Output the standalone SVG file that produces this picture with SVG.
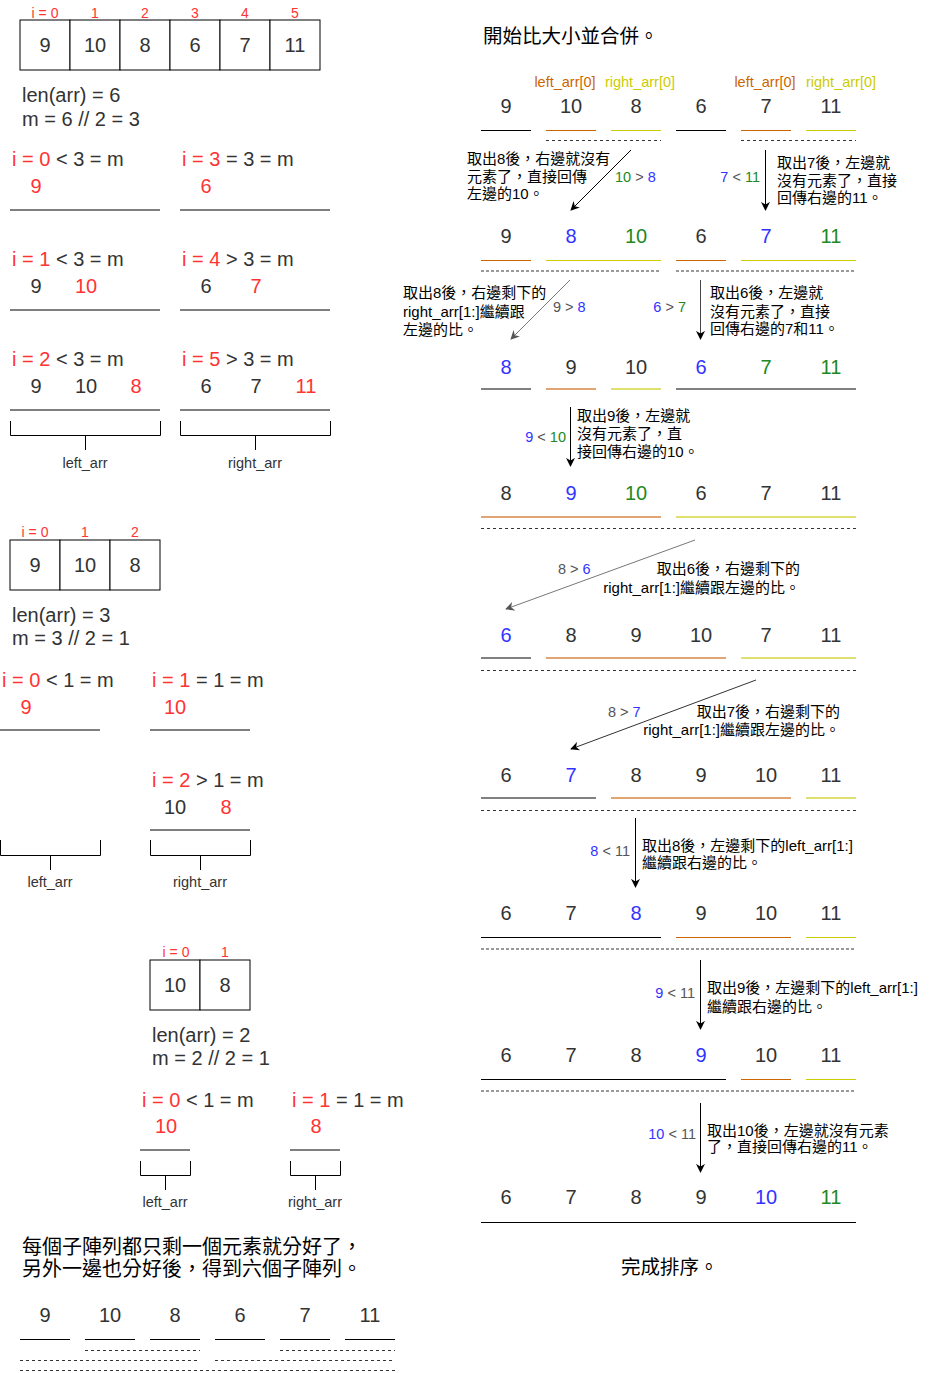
<svg xmlns="http://www.w3.org/2000/svg" width="936" height="1373" viewBox="0 0 936 1373">
<style>
text{font-family:"Liberation Sans","Noto Sans CJK TC",Arial,sans-serif}
.n{font-size:20px;fill:#333;text-anchor:middle}
.t{font-size:20px;fill:#333}
.idx{font-size:14px;fill:#FF3333;text-anchor:middle}
.s{font-size:14.5px;fill:#333;text-anchor:middle}
.c{font-size:15px;fill:#000}
.cr{font-size:15px;fill:#000;text-anchor:end}
.lb{font-size:14.5px;fill:#555}
.lbe{font-size:14.5px;fill:#555;text-anchor:end}
.big{font-size:19.5px;fill:#000}
.big2{font-size:20px;fill:#000}
.r{fill:#FF3333}
.b{fill:#3333FF}
.g{fill:#228822}
.or{fill:#CC6600}
.ye{fill:#CCCC00}
.box{fill:#fff;stroke:#000;stroke-width:1}
.ln{stroke:#000;stroke-width:1;fill:none}
.lo{stroke:#CC6600;stroke-width:1.2}
.ly{stroke:#CCCC00;stroke-width:1.2}
.lgr{stroke:#808080;stroke-width:2}
.llo{stroke:#E0A572;stroke-width:2}
.lly{stroke:#E0E070;stroke-width:2}
.dd{stroke:#333;stroke-width:1;stroke-dasharray:3 3}
.dl{stroke:#999;stroke-width:2;stroke-dasharray:3 2}
.ar{stroke:#000;stroke-width:1;fill:none;marker-end:url(#ak)}
.ag{stroke:#777;stroke-width:1;fill:none;marker-end:url(#ag)}
</style>
<defs>
<marker id="ak" viewBox="0 0 10 10" refX="9" refY="5" markerWidth="9" markerHeight="9" markerUnits="userSpaceOnUse" orient="auto"><path d="M0,0 L10,5 L0,10 L3,5 z" fill="#000"/></marker>
<marker id="ag" viewBox="0 0 10 10" refX="9" refY="5" markerWidth="9" markerHeight="9" markerUnits="userSpaceOnUse" orient="auto"><path d="M0,0 L10,5 L0,10 L3,5 z" fill="#555"/></marker>
</defs>
<rect width="936" height="1373" fill="#fff"/>

<!-- top array of 6 -->
<g id="array6">
<text class="idx" x="45" y="18">i = 0</text><text class="idx" x="95" y="18">1</text><text class="idx" x="145" y="18">2</text><text class="idx" x="195" y="18">3</text><text class="idx" x="245" y="18">4</text><text class="idx" x="295" y="18">5</text>
<rect class="box" x="20" y="20" width="50" height="50"/><rect class="box" x="70" y="20" width="50" height="50"/><rect class="box" x="120" y="20" width="50" height="50"/><rect class="box" x="170" y="20" width="50" height="50"/><rect class="box" x="220" y="20" width="50" height="50"/><rect class="box" x="270" y="20" width="50" height="50"/>
<text class="n" x="45" y="52">9</text><text class="n" x="95" y="52">10</text><text class="n" x="145" y="52">8</text><text class="n" x="195" y="52">6</text><text class="n" x="245" y="52">7</text><text class="n" x="295" y="52">11</text>
<text class="t" x="22" y="102">len(arr) = 6</text>
<text class="t" x="22" y="126">m = 6 // 2 = 3</text>
</g>

<g id="split6-left">
<text class="t" x="12" y="166"><tspan class="r">i = 0</tspan> &lt; 3 = m</text>
<text class="n r" x="36" y="193">9</text>
<line class="ln" x1="10" y1="210" x2="160" y2="210"/>
<text class="t" x="12" y="266"><tspan class="r">i = 1</tspan> &lt; 3 = m</text>
<text class="n" x="36" y="293">9</text><text class="n r" x="86" y="293">10</text>
<line class="ln" x1="10" y1="310" x2="160" y2="310"/>
<text class="t" x="12" y="366"><tspan class="r">i = 2</tspan> &lt; 3 = m</text>
<text class="n" x="36" y="393">9</text><text class="n" x="86" y="393">10</text><text class="n r" x="136" y="393">8</text>
<line class="ln" x1="10" y1="410" x2="160" y2="410"/>
<path class="ln" d="M10.5,421 V435.5 H160.5 V421 M85.5,435 V450"/>
<text class="s" x="85" y="468">left_arr</text>
</g>

<g id="split6-right">
<text class="t" x="182" y="166"><tspan class="r">i = 3</tspan> = 3 = m</text>
<text class="n r" x="206" y="193">6</text>
<line class="ln" x1="180" y1="210" x2="330" y2="210"/>
<text class="t" x="182" y="266"><tspan class="r">i = 4</tspan> &gt; 3 = m</text>
<text class="n" x="206" y="293">6</text><text class="n r" x="256" y="293">7</text>
<line class="ln" x1="180" y1="310" x2="330" y2="310"/>
<text class="t" x="182" y="366"><tspan class="r">i = 5</tspan> &gt; 3 = m</text>
<text class="n" x="206" y="393">6</text><text class="n" x="256" y="393">7</text><text class="n r" x="306" y="393">11</text>
<line class="ln" x1="180" y1="410" x2="330" y2="410"/>
<path class="ln" d="M180.5,421 V435.5 H330.5 V421 M255.5,435 V450"/>
<text class="s" x="255" y="468">right_arr</text>
</g>

<!-- array of 3 -->
<g id="array3">
<text class="idx" x="35" y="537">i = 0</text><text class="idx" x="85" y="537">1</text><text class="idx" x="135" y="537">2</text>
<rect class="box" x="10" y="540" width="50" height="50"/><rect class="box" x="60" y="540" width="50" height="50"/><rect class="box" x="110" y="540" width="50" height="50"/>
<text class="n" x="35" y="572">9</text><text class="n" x="85" y="572">10</text><text class="n" x="135" y="572">8</text>
<text class="t" x="12" y="622">len(arr) = 3</text>
<text class="t" x="12" y="645">m = 3 // 2 = 1</text>
</g>

<g id="split3-left">
<text class="t" x="2" y="687"><tspan class="r">i = 0</tspan> &lt; 1 = m</text>
<text class="n r" x="26" y="714">9</text>
<line class="ln" x1="0" y1="730" x2="100" y2="730"/>
<path class="ln" d="M0.5,840 V855.5 H100.5 V840 M50.5,855 V870"/>
<text class="s" x="50" y="887">left_arr</text>
</g>

<g id="split3-right">
<text class="t" x="152" y="687"><tspan class="r">i = 1</tspan> = 1 = m</text>
<text class="n r" x="175" y="714">10</text>
<line class="ln" x1="150" y1="730" x2="250" y2="730"/>
<text class="t" x="152" y="787"><tspan class="r">i = 2</tspan> &gt; 1 = m</text>
<text class="n" x="175" y="814">10</text><text class="n r" x="226" y="814">8</text>
<line class="ln" x1="150" y1="830" x2="250" y2="830"/>
<path class="ln" d="M150.5,840 V855.5 H250.5 V840 M200.5,855 V870"/>
<text class="s" x="200" y="887">right_arr</text>
</g>

<!-- array of 2 -->
<g id="array2">
<text class="idx" x="176" y="957">i = 0</text><text class="idx" x="225" y="957">1</text>
<rect class="box" x="150" y="960" width="50" height="50"/><rect class="box" x="200" y="960" width="50" height="50"/>
<text class="n" x="175" y="992">10</text><text class="n" x="225" y="992">8</text>
<text class="t" x="152" y="1042">len(arr) = 2</text>
<text class="t" x="152" y="1065">m = 2 // 2 = 1</text>
</g>

<g id="split2-left">
<text class="t" x="142" y="1107"><tspan class="r">i = 0</tspan> &lt; 1 = m</text>
<text class="n r" x="166" y="1133">10</text>
<line class="ln" x1="140" y1="1150" x2="190" y2="1150"/>
<path class="ln" d="M140.5,1161 V1175.5 H190.5 V1161 M165.5,1175 V1190"/>
<text class="s" x="165" y="1207">left_arr</text>
</g>

<g id="split2-right">
<text class="t" x="292" y="1107"><tspan class="r">i = 1</tspan> = 1 = m</text>
<text class="n r" x="316" y="1133">8</text>
<line class="ln" x1="290" y1="1150" x2="340" y2="1150"/>
<path class="ln" d="M290.5,1161 V1175.5 H340.5 V1161 M315.5,1175 V1190"/>
<text class="s" x="315" y="1207">right_arr</text>
</g>

<g id="six-subarrays">
<text class="big2" x="22" y="1254">每個子陣列都只剩一個元素就分好了，</text>
<text class="big2" x="22" y="1276">另外一邊也分好後，得到六個子陣列。</text>
<text class="n" x="45" y="1322">9</text><text class="n" x="110" y="1322">10</text><text class="n" x="175" y="1322">8</text><text class="n" x="240" y="1322">6</text><text class="n" x="305" y="1322">7</text><text class="n" x="370" y="1322">11</text>
<path class="ln" d="M20,1339.5H70M85,1339.5H135M150,1339.5H200M215,1339.5H265M280,1339.5H330M345,1339.5H395"/>
<path class="dd" d="M85,1350.5H200M280,1350.5H395M20,1360.5H200M215,1360.5H395M20,1370.5H395"/>
</g>

<!-- right side: merging -->
<text class="big" x="483" y="43">開始比大小並合併。</text>

<g id="merge-row1">
<text class="s or" x="565" y="87">left_arr[0]</text><text class="s ye" x="640" y="87">right_arr[0]</text>
<text class="s or" x="765" y="87">left_arr[0]</text><text class="s ye" x="841" y="87">right_arr[0]</text>
<text class="n" x="506" y="113">9</text><text class="n" x="571" y="113">10</text><text class="n" x="636" y="113">8</text><text class="n" x="701" y="113">6</text><text class="n" x="766" y="113">7</text><text class="n" x="831" y="113">11</text>
<path class="ln" d="M481,130.5H531M676,130.5H726"/>
<path class="lo" d="M546,130.5H596M741,130.5H791"/>
<path class="ly" d="M611,130.5H661M806,130.5H856"/>
<path class="dd" d="M546,140.5H661M741,140.5H856"/>
</g>

<g id="merge-row2">
<text class="n" x="506" y="243">9</text><text class="n b" x="571" y="243">8</text><text class="n g" x="636" y="243">10</text><text class="n" x="701" y="243">6</text><text class="n b" x="766" y="243">7</text><text class="n g" x="831" y="243">11</text>
<path class="lo" d="M481,260.5H531M676,260.5H726"/>
<path class="ly" d="M546,260.5H661M741,260.5H856"/>
<path class="dl" d="M481,271H660M676,271H855"/>
</g>

<g id="merge-row3">
<text class="n b" x="506" y="374">8</text><text class="n" x="571" y="374">9</text><text class="n" x="636" y="374">10</text><text class="n b" x="701" y="374">6</text><text class="n g" x="766" y="374">7</text><text class="n g" x="831" y="374">11</text>
<path class="lgr" d="M481,389H531M676,389H856"/>
<path class="llo" d="M546,389H596"/>
<path class="lly" d="M611,389H661"/>
</g>

<g id="merge-row4">
<text class="n" x="506" y="500">8</text><text class="n b" x="571" y="500">9</text><text class="n g" x="636" y="500">10</text><text class="n" x="701" y="500">6</text><text class="n" x="766" y="500">7</text><text class="n" x="831" y="500">11</text>
<path class="llo" d="M481,517H661"/>
<path class="lly" d="M676,517H856"/>
<path class="dd" d="M481,528.5H856"/>
</g>

<g id="merge-row5">
<text class="n b" x="506" y="642">6</text><text class="n" x="571" y="642">8</text><text class="n" x="636" y="642">9</text><text class="n" x="701" y="642">10</text><text class="n" x="766" y="642">7</text><text class="n" x="831" y="642">11</text>
<path class="lgr" d="M481,658H531"/>
<path class="llo" d="M546,658H726"/>
<path class="lly" d="M741,658H856"/>
<path class="dd" d="M481,670.5H856"/>
</g>

<g id="merge-row6">
<text class="n" x="506" y="782">6</text><text class="n b" x="571" y="782">7</text><text class="n" x="636" y="782">8</text><text class="n" x="701" y="782">9</text><text class="n" x="766" y="782">10</text><text class="n" x="831" y="782">11</text>
<path class="lgr" d="M481,798H596"/>
<path class="llo" d="M611,798H791"/>
<path class="lly" d="M806,798H856"/>
<path class="dd" d="M481,810.5H856"/>
</g>

<g id="merge-row7">
<text class="n" x="506" y="920">6</text><text class="n" x="571" y="920">7</text><text class="n b" x="636" y="920">8</text><text class="n" x="701" y="920">9</text><text class="n" x="766" y="920">10</text><text class="n" x="831" y="920">11</text>
<path class="ln" d="M481,937.5H661"/>
<path class="lo" d="M676,937.5H791"/>
<path class="ly" d="M806,937.5H856"/>
<path class="dl" d="M481,949H856"/>
</g>

<g id="merge-row8">
<text class="n" x="506" y="1062">6</text><text class="n" x="571" y="1062">7</text><text class="n" x="636" y="1062">8</text><text class="n b" x="701" y="1062">9</text><text class="n" x="766" y="1062">10</text><text class="n" x="831" y="1062">11</text>
<path class="ln" d="M481,1079.5H726"/>
<path class="lo" d="M741,1079.5H791"/>
<path class="ly" d="M806,1079.5H856"/>
<path class="dl" d="M481,1091H856"/>
</g>

<g id="merge-row9">
<text class="n" x="506" y="1204">6</text><text class="n" x="571" y="1204">7</text><text class="n" x="636" y="1204">8</text><text class="n" x="701" y="1204">9</text><text class="n b" x="766" y="1204">10</text><text class="n g" x="831" y="1204">11</text>
<path class="ln" d="M481,1222.5H856"/>
</g>

<text class="big" x="621" y="1274">完成排序。</text>

<!-- step notes -->
<g id="note1">
<text class="c" x="467" y="164">取出8後，右邊就沒有</text>
<text class="c" x="467" y="182">元素了，直接回傳</text>
<text class="c" x="467" y="199">左邊的10。</text>
<text class="lb" x="615" y="182"><tspan class="g">10</tspan> &gt; <tspan class="b">8</tspan></text>
</g>
<g id="note2">
<text class="lbe" x="760" y="182"><tspan class="b">7</tspan> &lt; <tspan class="g">11</tspan></text>
<text class="c" x="777" y="168">取出7後，左邊就</text>
<text class="c" x="777" y="186">沒有元素了，直接</text>
<text class="c" x="777" y="203">回傳右邊的11。</text>
</g>
<g id="note3">
<text class="c" x="403" y="298">取出8後，右邊剩下的</text>
<text class="c" x="403" y="317">right_arr[1:]繼續跟</text>
<text class="c" x="403" y="335">左邊的比。</text>
<text class="lb" x="553" y="312">9 &gt; <tspan class="b">8</tspan></text>
</g>
<g id="note4">
<text class="lbe" x="686" y="312"><tspan class="b">6</tspan> &gt; <tspan class="g">7</tspan></text>
<text class="c" x="710" y="298">取出6後，左邊就</text>
<text class="c" x="710" y="317">沒有元素了，直接</text>
<text class="c" x="710" y="334">回傳右邊的7和11。</text>
</g>
<g id="note5">
<text class="lbe" x="566" y="442"><tspan class="b">9</tspan> &lt; <tspan class="g">10</tspan></text>
<text class="c" x="577" y="421">取出9後，左邊就</text>
<text class="c" x="577" y="439">沒有元素了，直</text>
<text class="c" x="577" y="457">接回傳右邊的10。</text>
</g>
<g id="note6">
<text class="lb" x="558" y="574">8 &gt; <tspan class="b">6</tspan></text>
<text class="cr" x="800" y="574">取出6後，右邊剩下的</text>
<text class="cr" x="800" y="593">right_arr[1:]繼續跟左邊的比。</text>
</g>
<g id="note7">
<text class="lb" x="608" y="717">8 &gt; <tspan class="b">7</tspan></text>
<text class="cr" x="840" y="717">取出7後，右邊剩下的</text>
<text class="cr" x="840" y="735">right_arr[1:]繼續跟左邊的比。</text>
</g>
<g id="note8">
<text class="lbe" x="630" y="856"><tspan class="b">8</tspan> &lt; 11</text>
<text class="c" x="642" y="851">取出8後，左邊剩下的left_arr[1:]</text>
<text class="c" x="642" y="868">繼續跟右邊的比。</text>
</g>
<g id="note9">
<text class="lbe" x="695" y="998"><tspan class="b">9</tspan> &lt; 11</text>
<text class="c" x="707" y="993">取出9後，左邊剩下的left_arr[1:]</text>
<text class="c" x="707" y="1012">繼續跟右邊的比。</text>
</g>
<g id="note10">
<text class="lbe" x="696" y="1139"><tspan class="b">10</tspan> &lt; 11</text>
<text class="c" x="707" y="1136">取出10後，左邊就沒有元素</text>
<text class="c" x="707" y="1152">了，直接回傳右邊的11。</text>
</g>

<g id="connectors">
<line class="ar" x1="631" y1="150" x2="571" y2="210"/>
<line class="ar" x1="765.5" y1="150" x2="765.5" y2="210"/>
<line class="ag" x1="570" y1="280" x2="511" y2="339"/>
<line class="ar" x1="700.5" y1="280" x2="700.5" y2="339" style="stroke:#444"/>
<line class="ar" x1="570.5" y1="407" x2="570.5" y2="466"/>
<line class="ag" x1="695" y1="540" x2="506" y2="609"/>
<line class="ar" x1="756" y1="680" x2="571" y2="749" style="stroke:#333"/>
<line class="ar" x1="635.5" y1="818" x2="635.5" y2="887"/>
<line class="ar" x1="700.5" y1="960" x2="700.5" y2="1029"/>
<line class="ar" x1="700.5" y1="1103" x2="700.5" y2="1172"/>
</g>
</svg>
